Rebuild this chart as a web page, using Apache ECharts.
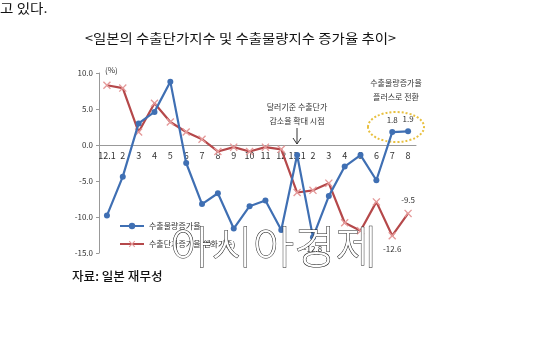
<!DOCTYPE html>
<html><head><meta charset="utf-8">
<script src="https://cdn.jsdelivr.net/npm/echarts@6/dist/echarts.min.js"></script>
<style>html,body{margin:0;padding:0;background:#fff}#c{width:550px;height:337px}</style>
</head><body><div id="c"></div>
<script>
var categories = ['12.1','2','3','4','5','6','7','8','9','10','11','12','13.1','2','3','4','5','6','7','8'];
var volumeGrowth = [-9.8,-4.4,3.0,4.6,8.8,-2.5,-8.2,-6.7,-11.6,-8.5,-7.7,-11.8,-1.4,-12.8,-7.1,-3.0,-1.4,-4.9,1.8,1.9];
var priceGrowth = [8.3,7.9,1.8,5.8,3.2,1.8,0.8,-0.9,-0.3,-0.9,-0.3,-0.6,-6.6,-6.3,-5.3,-10.8,-11.9,-7.9,-12.6,-9.5];
var yTicks = [-15,-10,-5,0,5,10];
var volName = '수출물량증가율';
var priceName = '수출단가증가율(엔화기준)';
var labeledVol = {13:'bottom',18:'top',19:'top'};
var labeledPrice = {18:'bottom',19:'top'};

var font = '"Noto Sans CJK KR", sans-serif';
var chart = echarts.init(document.getElementById('c'));
var crossPath = 'path://M0,1.2L1.2,0L5,3.8L8.8,0L10,1.2L6.2,5L10,8.8L8.8,10L5,6.2L1.2,10L0,8.8L3.8,5Z';
var gridTop = 73, gridBottom = 84, plotH = 337 - gridTop - gridBottom;
var yMin = yTicks[0], yMax = yTicks[yTicks.length-1];
var zeroOffset = -plotH * (0 - yMin) / (yMax - yMin);

function mkData(arr, labeled){
  return arr.map(function(v,i){
    if(labeled[i]){
      return {value:v, label:{show:true, position:labeled[i], formatter:function(p){return p.value.toFixed(1);}, fontSize:8, color:'#333', fontFamily:font, distance:5}};
    }
    return v;
  });
}

chart.setOption({
  animation:false,
  grid:{left:99, right:134, top:gridTop, bottom:gridBottom},
  xAxis:{type:'category', data:categories, boundaryGap:true, position:'bottom', offset:zeroOffset,
    axisLine:{onZero:false, lineStyle:{color:'#999', width:1}},
    axisTick:{show:false},
    axisLabel:{color:'#333', fontSize:9, fontFamily:font, margin:6, interval:0}
  },
  yAxis:{type:'value', min:yMin, max:yMax, interval:5,
    axisLine:{show:true, lineStyle:{color:'#999'}},
    axisTick:{show:true, length:3, lineStyle:{color:'#999'}},
    splitLine:{show:false},
    axisLabel:{color:'#333', fontSize:8, fontFamily:font, margin:6, formatter:function(v){return v.toFixed(1);}}
  },
  legend:{show:true, orient:'vertical', left:114, top:217, itemGap:10, itemWidth:24, itemHeight:8,
    textStyle:{fontSize:8, color:'#333', fontFamily:font},
    data:[{name:volName},{name:priceName}]
  },
  series:[
    {name:volName, type:'line', data:mkData(volumeGrowth, labeledVol), color:'#3f6fb3',
      lineStyle:{width:2.2, color:'#3f6fb3'}, symbol:'circle', symbolSize:6, itemStyle:{color:'#3f6fb3'}, z:3},
    {name:priceName, type:'line', data:mkData(priceGrowth, labeledPrice), color:'#b5484a',
      lineStyle:{width:2.2, color:'#b5484a'}, symbol:crossPath, symbolSize:8, itemStyle:{color:'#e59a9a'}, z:2}
  ],
  graphic:[
    {type:'text', x:0, y:2, scaleX:1.12, style:{text:'고 있다.', fontSize:13, fill:'#111', fontFamily:font}},
    {type:'text', x:85, y:32, scaleX:1.11, style:{text:'<일본의 수출단가지수 및 수출물량지수 증가율 추이>', fontSize:13, fill:'#111', fontFamily:font}},
    {type:'text', x:105, y:66, style:{text:'(%)', fontSize:8, fill:'#333', fontFamily:font}},
    {type:'text', x:297, y:103, style:{text:'달러기준 수출단가', fontSize:8, fill:'#333', fontFamily:font, align:'center'}},
    {type:'text', x:297, y:117, style:{text:'감소율 확대 시점', fontSize:8, fill:'#333', fontFamily:font, align:'center'}},
    {type:'line', shape:{x1:297, y1:128, x2:297, y2:144}, style:{stroke:'#333', lineWidth:1}},
    {type:'polyline', shape:{points:[[293,138],[297,144],[301,138]]}, style:{stroke:'#333', lineWidth:1, fill:null}},
    {type:'text', x:396, y:79, style:{text:'수출물량증가율', fontSize:8, fill:'#333', fontFamily:font, align:'center'}},
    {type:'text', x:396, y:93, style:{text:'플러스로 전환', fontSize:8, fill:'#333', fontFamily:font, align:'center'}},
    {type:'ellipse', shape:{cx:396, cy:127, rx:28, ry:15}, style:{fill:null, stroke:'#e8c040', lineWidth:2, lineDash:[2,2]}},
    {type:'text', x:72, y:270, scaleX:1.05, style:{text:'자료: 일본 재무성', fontSize:12, fill:'#111', fontFamily:font, fontWeight:500}},
    {type:'text', x:170, y:224, z:100, style:{text:'아시아경제', fontSize:45, fontWeight:200, fill:'#fff', stroke:'#222', lineWidth:1, fontFamily:font, shadowColor:'rgba(0,0,0,0.55)', shadowBlur:0, shadowOffsetX:2, shadowOffsetY:2}}
  ]
});
</script></body></html>
